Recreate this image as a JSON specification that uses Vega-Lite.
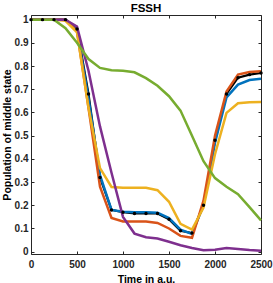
{
  "$schema": "https://vega.github.io/schema/vega-lite/v6.json",
  "autosize": {"type": "none"},
  "padding": {"left": 31, "top": 15, "right": 12, "bottom": 29},
  "width": 230,
  "height": 239,
  "background": "white",
  "title": {"text": "FSSH", "font": "Liberation Sans", "fontSize": 11.5, "fontWeight": "bold", "color": "#000000", "offset": 0},
  "config": {
    "view": {"stroke": "#262626", "strokeWidth": 1},
    "axis": {"labelFont": "Liberation Sans", "labelFontSize": 10, "labelFontWeight": "bold", "labelColor": "#262626", "titleFont": "Liberation Sans", "titleFontSize": 10.5, "titleFontWeight": "bold", "titleColor": "#000000", "domain": false, "grid": false, "tickColor": "#262626", "tickSize": -3, "tickWidth": 1}
  },
  "datasets": {
    "d": [
      {"s":"black","t":0,"v":1},{"s":"black","t":125,"v":1},{"s":"black","t":250,"v":1},{"s":"black","t":375,"v":1},{"s":"black","t":500,"v":0.96},{"s":"black","t":625,"v":0.68},{"s":"black","t":750,"v":0.32},{"s":"black","t":875,"v":0.18},{"s":"black","t":1000,"v":0.17},{"s":"black","t":1125,"v":0.165},{"s":"black","t":1250,"v":0.165},{"s":"black","t":1375,"v":0.165},{"s":"black","t":1500,"v":0.14},{"s":"black","t":1625,"v":0.09},{"s":"black","t":1750,"v":0.08},{"s":"black","t":1875,"v":0.2},{"s":"black","t":2000,"v":0.48},{"s":"black","t":2125,"v":0.68},{"s":"black","t":2250,"v":0.75},{"s":"black","t":2375,"v":0.763},{"s":"black","t":2500,"v":0.77},
      {"s":"blue","t":0,"v":1},{"s":"blue","t":125,"v":1},{"s":"blue","t":250,"v":1},{"s":"blue","t":375,"v":1},{"s":"blue","t":500,"v":0.955},{"s":"blue","t":625,"v":0.66},{"s":"blue","t":750,"v":0.33},{"s":"blue","t":875,"v":0.18},{"s":"blue","t":1000,"v":0.172},{"s":"blue","t":1125,"v":0.17},{"s":"blue","t":1250,"v":0.17},{"s":"blue","t":1375,"v":0.168},{"s":"blue","t":1500,"v":0.145},{"s":"blue","t":1625,"v":0.095},{"s":"blue","t":1750,"v":0.077},{"s":"blue","t":1875,"v":0.2},{"s":"blue","t":2000,"v":0.47},{"s":"blue","t":2125,"v":0.665},{"s":"blue","t":2250,"v":0.72},{"s":"blue","t":2375,"v":0.74},{"s":"blue","t":2500,"v":0.745},
      {"s":"orange","t":0,"v":1},{"s":"orange","t":125,"v":1},{"s":"orange","t":250,"v":1},{"s":"orange","t":375,"v":1},{"s":"orange","t":500,"v":0.95},{"s":"orange","t":625,"v":0.62},{"s":"orange","t":750,"v":0.28},{"s":"orange","t":875,"v":0.145},{"s":"orange","t":1000,"v":0.13},{"s":"orange","t":1125,"v":0.13},{"s":"orange","t":1250,"v":0.13},{"s":"orange","t":1375,"v":0.124},{"s":"orange","t":1500,"v":0.1},{"s":"orange","t":1625,"v":0.068},{"s":"orange","t":1750,"v":0.06},{"s":"orange","t":1875,"v":0.22},{"s":"orange","t":2000,"v":0.5},{"s":"orange","t":2125,"v":0.69},{"s":"orange","t":2250,"v":0.763},{"s":"orange","t":2375,"v":0.774},{"s":"orange","t":2500,"v":0.778},
      {"s":"yellow","t":0,"v":1},{"s":"yellow","t":125,"v":1},{"s":"yellow","t":250,"v":1},{"s":"yellow","t":375,"v":0.995},{"s":"yellow","t":500,"v":0.945},{"s":"yellow","t":625,"v":0.62},{"s":"yellow","t":750,"v":0.36},{"s":"yellow","t":875,"v":0.279},{"s":"yellow","t":1000,"v":0.275},{"s":"yellow","t":1125,"v":0.275},{"s":"yellow","t":1250,"v":0.275},{"s":"yellow","t":1375,"v":0.265},{"s":"yellow","t":1500,"v":0.215},{"s":"yellow","t":1625,"v":0.12},{"s":"yellow","t":1750,"v":0.095},{"s":"yellow","t":1875,"v":0.19},{"s":"yellow","t":2000,"v":0.42},{"s":"yellow","t":2125,"v":0.598},{"s":"yellow","t":2250,"v":0.64},{"s":"yellow","t":2375,"v":0.644},{"s":"yellow","t":2500,"v":0.645},
      {"s":"purple","t":0,"v":1},{"s":"purple","t":125,"v":1},{"s":"purple","t":250,"v":1},{"s":"purple","t":375,"v":1},{"s":"purple","t":500,"v":0.97},{"s":"purple","t":625,"v":0.78},{"s":"purple","t":750,"v":0.54},{"s":"purple","t":875,"v":0.34},{"s":"purple","t":1000,"v":0.15},{"s":"purple","t":1125,"v":0.078},{"s":"purple","t":1250,"v":0.062},{"s":"purple","t":1375,"v":0.057},{"s":"purple","t":1500,"v":0.043},{"s":"purple","t":1625,"v":0.028},{"s":"purple","t":1750,"v":0.016},{"s":"purple","t":1875,"v":0.006},{"s":"purple","t":2000,"v":0.008},{"s":"purple","t":2125,"v":0.016},{"s":"purple","t":2250,"v":0.012},{"s":"purple","t":2375,"v":0.007},{"s":"purple","t":2500,"v":0.004},
      {"s":"green","t":0,"v":1},{"s":"green","t":125,"v":1},{"s":"green","t":250,"v":1},{"s":"green","t":375,"v":0.963},{"s":"green","t":500,"v":0.9},{"s":"green","t":625,"v":0.83},{"s":"green","t":750,"v":0.792},{"s":"green","t":875,"v":0.782},{"s":"green","t":1000,"v":0.78},{"s":"green","t":1125,"v":0.773},{"s":"green","t":1250,"v":0.748},{"s":"green","t":1375,"v":0.715},{"s":"green","t":1500,"v":0.67},{"s":"green","t":1625,"v":0.608},{"s":"green","t":1750,"v":0.5},{"s":"green","t":1875,"v":0.39},{"s":"green","t":2000,"v":0.317},{"s":"green","t":2125,"v":0.28},{"s":"green","t":2250,"v":0.248},{"s":"green","t":2375,"v":0.192},{"s":"green","t":2500,"v":0.135}
    ]
  },
  "data": {"name": "d"},
  "resolve": {"axis": {"x": "independent", "y": "independent"}},
  "layer": [
    {
      "transform": [{"filter": "datum.s == 'black'"}],
      "mark": {"type": "line", "color": "#000000", "strokeWidth": 2.2},
      "encoding": {
        "x": {"field": "t", "type": "quantitative", "scale": {"domain": [0, 2500], "nice": false}, "axis": {"title": "Time in a.u.", "values": [0, 500, 1000, 1500, 2000, 2500], "format": "d", "labelPadding": 8, "titlePadding": 5, "labelFlush": false}},
        "y": {"field": "v", "type": "quantitative", "scale": {"domain": [-0.01, 1.02], "nice": false, "zero": false}, "axis": {"title": "Population of middle state", "values": [0, 0.1, 0.2, 0.3, 0.4, 0.5, 0.6, 0.7, 0.8, 0.9, 1], "labelExpr": "datum.value == 0 ? '0' : datum.value == 1 ? '1' : format(datum.value, '.1f')", "labelPadding": 6, "titlePadding": 2}}
      }
    },
    {
      "transform": [{"filter": "datum.s == 'blue'"}],
      "mark": {"type": "line", "color": "#0072BD", "strokeWidth": 2.5},
      "encoding": {"x": {"field": "t", "type": "quantitative", "axis": null}, "y": {"field": "v", "type": "quantitative", "axis": null}}
    },
    {
      "transform": [{"filter": "datum.s == 'orange'"}],
      "mark": {"type": "line", "color": "#D95319", "strokeWidth": 2.5},
      "encoding": {"x": {"field": "t", "type": "quantitative", "axis": null}, "y": {"field": "v", "type": "quantitative", "axis": null}}
    },
    {
      "transform": [{"filter": "datum.s == 'yellow'"}],
      "mark": {"type": "line", "color": "#EDB120", "strokeWidth": 2.5},
      "encoding": {"x": {"field": "t", "type": "quantitative", "axis": null}, "y": {"field": "v", "type": "quantitative", "axis": null}}
    },
    {
      "transform": [{"filter": "datum.s == 'purple'"}],
      "mark": {"type": "line", "color": "#7E2F8E", "strokeWidth": 2.5},
      "encoding": {"x": {"field": "t", "type": "quantitative", "axis": null}, "y": {"field": "v", "type": "quantitative", "axis": null}}
    },
    {
      "transform": [{"filter": "datum.s == 'green'"}],
      "mark": {"type": "line", "color": "#77AC30", "strokeWidth": 2.5},
      "encoding": {"x": {"field": "t", "type": "quantitative", "axis": null}, "y": {"field": "v", "type": "quantitative", "axis": null}}
    },
    {
      "transform": [{"filter": "datum.s == 'black'"}],
      "mark": {"type": "point", "filled": true, "color": "#000000", "size": 12, "opacity": 1},
      "encoding": {
        "x": {"field": "t", "type": "quantitative", "axis": {"orient": "top", "labels": false, "title": null, "values": [0, 500, 1000, 1500, 2000, 2500]}},
        "y": {"field": "v", "type": "quantitative", "axis": {"orient": "right", "labels": false, "title": null, "values": [0, 0.1, 0.2, 0.3, 0.4, 0.5, 0.6, 0.7, 0.8, 0.9, 1]}}
      }
    }
  ]
}
